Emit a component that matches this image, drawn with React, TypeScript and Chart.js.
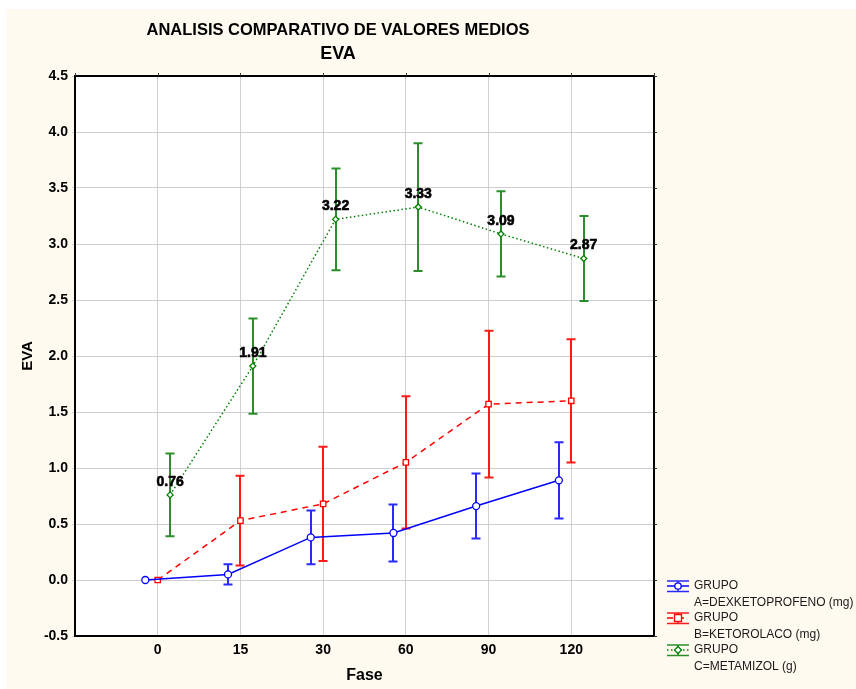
import React, { useEffect, useRef } from 'react';
import { Chart, registerables } from 'chart.js';

Chart.register(...registerables);

// ---------- data ----------
const phases = ['0', '15', '30', '60', '90', '120'];

const meansA = [0.0, 0.05, 0.38, 0.42, 0.66, 0.89];
const errA = [0, 0.09, 0.24, 0.255, 0.29, 0.34];

const meansB = [0.0, 0.53, 0.68, 1.05, 1.57, 1.6];
const errB = [0, 0.4, 0.51, 0.59, 0.655, 0.55];

const meansC = [0.76, 1.91, 3.22, 3.33, 3.09, 2.87];
const errC = [0.37, 0.425, 0.455, 0.57, 0.38, 0.38];

const legendA = ['GRUPO', 'A=DEXKETOPROFENO (mg)'];
const legendB = ['GRUPO', 'B=KETOROLACO (mg)'];
const legendC = ['GRUPO', 'C=METAMIZOL (g)'];

const titleLine1 = 'ANALISIS COMPARATIVO DE VALORES MEDIOS';
const titleLine2 = 'EVA';
const xAxisTitle = 'Fase';
const yAxisTitle = 'EVA';

const yTicks = [-0.5, 0, 0.5, 1, 1.5, 2, 2.5, 3, 3.5, 4, 4.5];

// ---------- styling ----------
const W = 856;
const H = 689;
const FONT = 'Arial, "Liberation Sans", sans-serif';

type Series = {
  label: string[];
  means: number[];
  errs: number[];
  color: string;
  errColor: string;
  offset: number;
  dash: number[];
  pointStyle: string;
  radius: number;
  showValues: boolean;
};

const series: Series[] = [
  { label: legendA, means: meansA, errs: errA, color: '#0000ff', errColor: '#2a2aff', offset: -0.15, dash: [], pointStyle: 'circle', radius: 3.5, showValues: false },
  { label: legendB, means: meansB, errs: errB, color: '#ff0000', errColor: '#ff1a1a', offset: 0, dash: [6, 5], pointStyle: 'rect', radius: 3.8, showValues: false },
  { label: legendC, means: meansC, errs: errC, color: '#008000', errColor: '#2a8f2a', offset: 0.15, dash: [1.5, 2.5], pointStyle: 'rectRot', radius: 3, showValues: true },
];

const bgPlugin = {
  id: 'bgPlugin',
  beforeDraw(chart: any) {
    const { ctx, chartArea } = chart;
    ctx.save();
    ctx.fillStyle = '#ffffff';
    ctx.fillRect(0, 0, W, H);
    ctx.fillStyle = '#fffaf0';
    ctx.fillRect(6, 9, W - 6, H - 9);
    ctx.fillStyle = '#ffffff';
    ctx.fillRect(chartArea.left, chartArea.top, chartArea.right - chartArea.left, chartArea.bottom - chartArea.top);
    ctx.restore();
  },
};

const errorBarPlugin = {
  id: 'errorBarPlugin',
  beforeDatasetsDraw(chart: any) {
    const { ctx } = chart;
    const xs = chart.scales.x;
    const ys = chart.scales.y;
    chart.data.datasets.forEach((ds: any) => {
      ctx.save();
      ctx.strokeStyle = ds.errColor;
      ctx.lineWidth = 2;
      ctx.setLineDash([]);
      ds.data.forEach((pt: any, i: number) => {
        const e = ds.errs[i];
        if (!e) return;
        const x = Math.round(xs.getPixelForValue(pt.x));
        const yt = ys.getPixelForValue(pt.y + e);
        const yb = ys.getPixelForValue(pt.y - e);
        ctx.beginPath();
        ctx.moveTo(x, yt);
        ctx.lineTo(x, yb);
        ctx.moveTo(x - 4.5, yt);
        ctx.lineTo(x + 4.5, yt);
        ctx.moveTo(x - 4.5, yb);
        ctx.lineTo(x + 4.5, yb);
        ctx.stroke();
      });
      ctx.restore();
    });
  },
};

const decorPlugin = {
  id: 'decorPlugin',
  afterDraw(chart: any) {
    const { ctx, chartArea } = chart;
    const xs = chart.scales.x;
    const ys = chart.scales.y;
    const { left, right, top, bottom } = chartArea;
    ctx.save();

    // value labels
    chart.data.datasets.forEach((ds: any) => {
      if (!ds.showValues) return;
      ctx.font = `bold 14px ${FONT}`;
      ctx.fillStyle = '#000000';
      ctx.strokeStyle = '#000000';
      ctx.lineWidth = 0.6;
      ctx.textAlign = 'center';
      ctx.textBaseline = 'middle';
      ds.data.forEach((pt: any) => {
        const x = xs.getPixelForValue(pt.x);
        const y = ys.getPixelForValue(pt.y);
        ctx.fillText(pt.y.toFixed(2), x, y - 13);
        ctx.strokeText(pt.y.toFixed(2), x, y - 13);
      });
    });

    // frame
    ctx.strokeStyle = '#000000';
    ctx.lineWidth = 2;
    ctx.strokeRect(left, top, right - left, bottom - top);

    // outer ticks on top and right
    ctx.lineWidth = 1;
    ctx.strokeStyle = '#333333';
    ctx.beginPath();
    for (let v = -1; v <= 6; v++) {
      const x = Math.round(xs.getPixelForValue(v)) + 0.5;
      ctx.moveTo(x, top);
      ctx.lineTo(x, top - 3);
    }
    yTicks.forEach((v) => {
      const y = Math.round(ys.getPixelForValue(v)) + 0.5;
      ctx.moveTo(right, y);
      ctx.lineTo(right + 3, y);
    });
    ctx.stroke();

    // titles
    ctx.fillStyle = '#000000';
    ctx.textAlign = 'center';
    ctx.textBaseline = 'middle';
    ctx.font = `bold 17px ${FONT}`;
    ctx.fillText(titleLine1, 338, 30, 383);
    ctx.font = `bold 18px ${FONT}`;
    ctx.fillText(titleLine2, 338, 54);

    ctx.font = `bold 16px ${FONT}`;
    ctx.fillText(xAxisTitle, (left + right) / 2, 676);

    ctx.save();
    ctx.translate(28, (top + bottom) / 2);
    ctx.rotate(-Math.PI / 2);
    ctx.font = `bold 15px ${FONT}`;
    ctx.fillText(yAxisTitle, 0, 0);
    ctx.restore();

    // legend
    const lx0 = 667;
    const lx1 = 689;
    const lcx = 678;
    const baseY = [586, 618, 650];
    chart.data.datasets.forEach((ds: any, i: number) => {
      const cy = baseY[i];
      ctx.strokeStyle = ds.errColor;
      ctx.lineWidth = 1.5;
      ctx.setLineDash([]);
      ctx.beginPath();
      ctx.moveTo(lx0, cy - 5);
      ctx.lineTo(lx1, cy - 5);
      ctx.moveTo(lx0, cy + 5.5);
      ctx.lineTo(lx1, cy + 5.5);
      ctx.moveTo(lcx, cy - 5);
      ctx.lineTo(lcx, cy + 5.5);
      ctx.stroke();
      ctx.strokeStyle = ds.borderColor;
      ctx.setLineDash(ds.borderDash || []);
      ctx.beginPath();
      ctx.moveTo(lx0, cy);
      ctx.lineTo(lx1, cy);
      ctx.stroke();
      ctx.setLineDash([]);
      ctx.fillStyle = '#ffffff';
      ctx.strokeStyle = ds.borderColor;
      ctx.lineWidth = 1.3;
      ctx.beginPath();
      if (ds.pointStyle === 'circle') {
        ctx.arc(lcx, cy, 3.2, 0, Math.PI * 2);
      } else if (ds.pointStyle === 'rect') {
        ctx.rect(lcx - 3.5, cy - 3.5, 7, 7);
      } else {
        ctx.moveTo(lcx, cy - 3.5);
        ctx.lineTo(lcx + 3.5, cy);
        ctx.lineTo(lcx, cy + 3.5);
        ctx.lineTo(lcx - 3.5, cy);
        ctx.closePath();
      }
      ctx.fill();
      ctx.stroke();

      ctx.fillStyle = '#1a1a1a';
      ctx.font = `12px ${FONT}`;
      ctx.textAlign = 'left';
      ctx.textBaseline = 'middle';
      ctx.fillText(ds.legendLines[0], 694, cy);
      ctx.fillText(ds.legendLines[1], 694, cy + 17);
    });

    ctx.restore();
  },
};

export default function App() {
  const canvasRef = useRef<HTMLCanvasElement | null>(null);

  useEffect(() => {
    const canvas = canvasRef.current;
    if (!canvas) return;

    const datasets = series.map((s) => ({
      label: s.label.join(' '),
      legendLines: s.label,
      data: s.means.map((y, i) => ({ x: i + s.offset, y })),
      errs: s.errs,
      errColor: s.errColor,
      showValues: s.showValues,
      borderColor: s.color,
      borderWidth: 1.5,
      borderDash: s.dash,
      backgroundColor: '#ffffff',
      pointStyle: s.pointStyle,
      pointRadius: s.radius,
      pointBorderWidth: 1.3,
      pointBackgroundColor: '#ffffff',
      pointBorderColor: s.color,
      tension: 0,
      fill: false,
    }));

    const chart = new Chart(canvas, {
      type: 'line',
      data: { datasets } as any,
      options: {
        responsive: false,
        animation: false,
        devicePixelRatio: 1,
        layout: { padding: { top: 76, right: W - 654, bottom: 0, left: 0 } },
        plugins: {
          legend: { display: false },
          title: { display: false },
          tooltip: { enabled: false },
        },
        scales: {
          x: {
            type: 'linear',
            min: -1,
            max: 6,
            afterFit: (s: any) => {
              s.height = H - 636;
            },
            afterBuildTicks: (s: any) => {
              s.ticks = [-1, 0, 1, 2, 3, 4, 5, 6].map((v) => ({ value: v }));
            },
            ticks: {
              stepSize: 1,
              autoSkip: false,
              maxRotation: 0,
              padding: 6,
              color: '#000000',
              font: { family: FONT, size: 14, weight: 'bold' },
              callback: (v: any) => {
                const n = Number(v);
                return n >= 0 && n < phases.length ? phases[n] : '';
              },
            },
            grid: { color: '#cfcfcf', lineWidth: 1, drawTicks: false },
            border: { display: false },
          },
          y: {
            type: 'linear',
            min: -0.5,
            max: 4.5,
            afterFit: (s: any) => {
              s.width = 75;
            },
            afterBuildTicks: (s: any) => {
              s.ticks = yTicks.map((v) => ({ value: v }));
            },
            ticks: {
              stepSize: 0.5,
              padding: 4,
              color: '#000000',
              font: { family: FONT, size: 14, weight: 'bold' },
              callback: (v: any) => Number(v).toFixed(1),
            },
            grid: { color: '#cfcfcf', lineWidth: 1, tickLength: 3 },
            border: { display: false },
          },
        },
      } as any,
      plugins: [bgPlugin, errorBarPlugin, decorPlugin],
    });

    return () => {
      chart.destroy();
    };
  }, []);

  return (
    <div style={{ position: 'absolute', left: 0, top: 0, width: W, height: H }}>
      <canvas ref={canvasRef} width={W} height={H} style={{ display: 'block', width: W, height: H }} />
    </div>
  );
}
